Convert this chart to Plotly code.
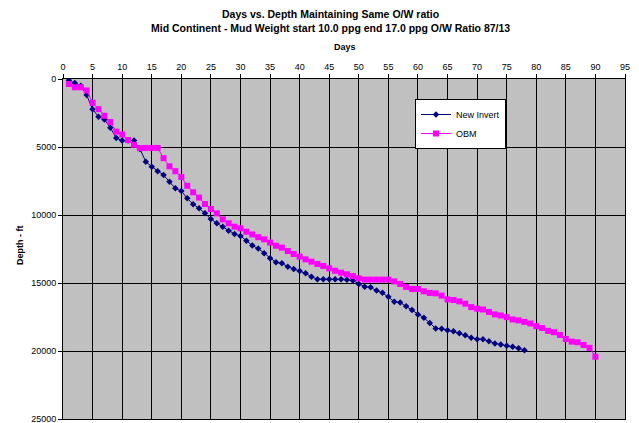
import plotly.graph_objects as go

title_line1 = "Days vs. Depth Maintaining Same O/W ratio"
title_line2 = "Mid Continent - Mud Weight start 10.0 ppg end 17.0 ppg O/W Ratio 87/13"
x_title = "Days"
y_title = "Depth - ft"
series_names = ["New Invert", "OBM"]

invert_days = list(range(1, 79))
invert_depth = [100, 300, 500, 1180, 2230, 2770, 2970, 3580, 4340, 4530,
                4530, 4530, 5150, 6080, 6450, 6780, 7060, 7560, 8040, 8240,
                8770, 9210, 9510, 9880, 10290, 10610, 10860, 11150, 11400, 11540,
                11890, 12240, 12470, 12820, 13180, 13480, 13550, 13800, 13970, 14120,
                14290, 14540, 14730, 14730, 14730, 14730, 14730, 14760, 14820, 15070,
                15270, 15320, 15560, 15710, 16020, 16370, 16440, 16710, 16990, 17310,
                17560, 17940, 18340, 18360, 18480, 18550, 18700, 18850, 19030, 19130,
                19140, 19280, 19440, 19530, 19610, 19680, 19800, 19950]

obm_days = list(range(1, 91))
obm_depth = [370, 610, 610, 840, 1750, 2220, 2700, 3160, 3870, 4080,
             4490, 4840, 5080, 5070, 5070, 5070, 5820, 6420, 6780, 7200,
             7850, 8330, 8720, 9190, 9560, 9880, 10320, 10610, 10860, 10980,
             11230, 11430, 11630, 11790, 12030, 12260, 12400, 12650, 12870, 13060,
             13260, 13430, 13600, 13750, 13920, 14100, 14240, 14360, 14490, 14660,
             14750, 14750, 14750, 14750, 14750, 14880, 15070, 15290, 15440, 15440,
             15610, 15730, 15760, 15930, 16200, 16250, 16350, 16520, 16770, 16890,
             16950, 17130, 17310, 17390, 17510, 17680, 17750, 17860, 17980, 18170,
             18310, 18520, 18620, 18820, 19120, 19310, 19360, 19560, 19770, 20420]

FONT = "Liberation Sans, Arial, sans-serif"
OFF = 8  # page body margin
W, H = 639, 423
# desired plot area in window pixels
PX0, PX1, PY0, PY1 = 63, 625, 79, 419
L, T = PX0 - OFF, PY0 - OFF
R = W - L - (PX1 - PX0)
B = H - T - (PY1 - PY0)
plot_w = PX1 - PX0
plot_h = PY1 - PY0


def py(pix):
    return (PY1 - pix) / plot_h


def px(pix):
    return (pix - PX0) / plot_w


fig = go.Figure()
fig.add_trace(go.Scatter(
    x=invert_days, y=invert_depth, name=series_names[0], mode="lines+markers",
    line=dict(color="#000080", width=1),
    marker=dict(symbol="diamond", size=5, color="#000080")))
fig.add_trace(go.Scatter(
    x=obm_days, y=obm_depth, name=series_names[1], mode="lines+markers",
    line=dict(color="#FF00FF", width=1),
    marker=dict(symbol="square", size=6, color="#FF00FF")))

fig.update_layout(
    width=W, height=H,
    margin=dict(l=L, r=R, t=T, b=B, autoexpand=False),
    paper_bgcolor="white", plot_bgcolor="#C0C0C0",
    font=dict(family=FONT, size=9, color="black"),
    showlegend=True,
    legend=dict(x=px(415), y=py(99), xanchor="left", yanchor="top",
                bgcolor="white", bordercolor="black", borderwidth=1,
                font=dict(family=FONT, size=9, color="black"),
                tracegroupgap=0, itemwidth=30),
    annotations=[
        dict(text="<b>" + title_line1 + "</b>", x=px(330), y=py(14), xref="paper", yref="paper",
             yanchor="middle", borderpad=0, showarrow=False, font=dict(family=FONT, size=10.5)),
        dict(text="<b>" + title_line2 + "</b>", x=px(330), y=py(28), xref="paper", yref="paper",
             yanchor="middle", borderpad=0, showarrow=False, font=dict(family=FONT, size=10.5)),
        dict(text="<b>" + x_title + "</b>", x=px(345), y=py(47), xref="paper", yref="paper",
             yanchor="middle", showarrow=False, font=dict(family=FONT, size=9)),
        dict(text="<b>" + y_title + "</b>", x=px(20), y=py(245), xref="paper", yref="paper",
             xanchor="center", yanchor="middle", showarrow=False, textangle=-90,
             font=dict(family=FONT, size=9)),
    ],
)

fig.update_xaxes(range=[0, 95], dtick=5, tick0=0, side="top", automargin=False,
                 showgrid=True, gridcolor="black", gridwidth=1,
                 showline=True, linecolor="black", linewidth=1, mirror=True,
                 ticks="outside", ticklen=4, tickcolor="black", zeroline=False,
                 tickfont=dict(family=FONT, size=9))
fig.update_yaxes(range=[25000, 0], dtick=5000, tick0=0, automargin=False,
                 tickformat="d",
                 showgrid=True, gridcolor="black", gridwidth=1,
                 showline=True, linecolor="black", linewidth=1, mirror=True,
                 ticks="outside", ticklen=4, tickcolor="black", zeroline=False,
                 tickfont=dict(family=FONT, size=9))

fig.write_html("out.html")
